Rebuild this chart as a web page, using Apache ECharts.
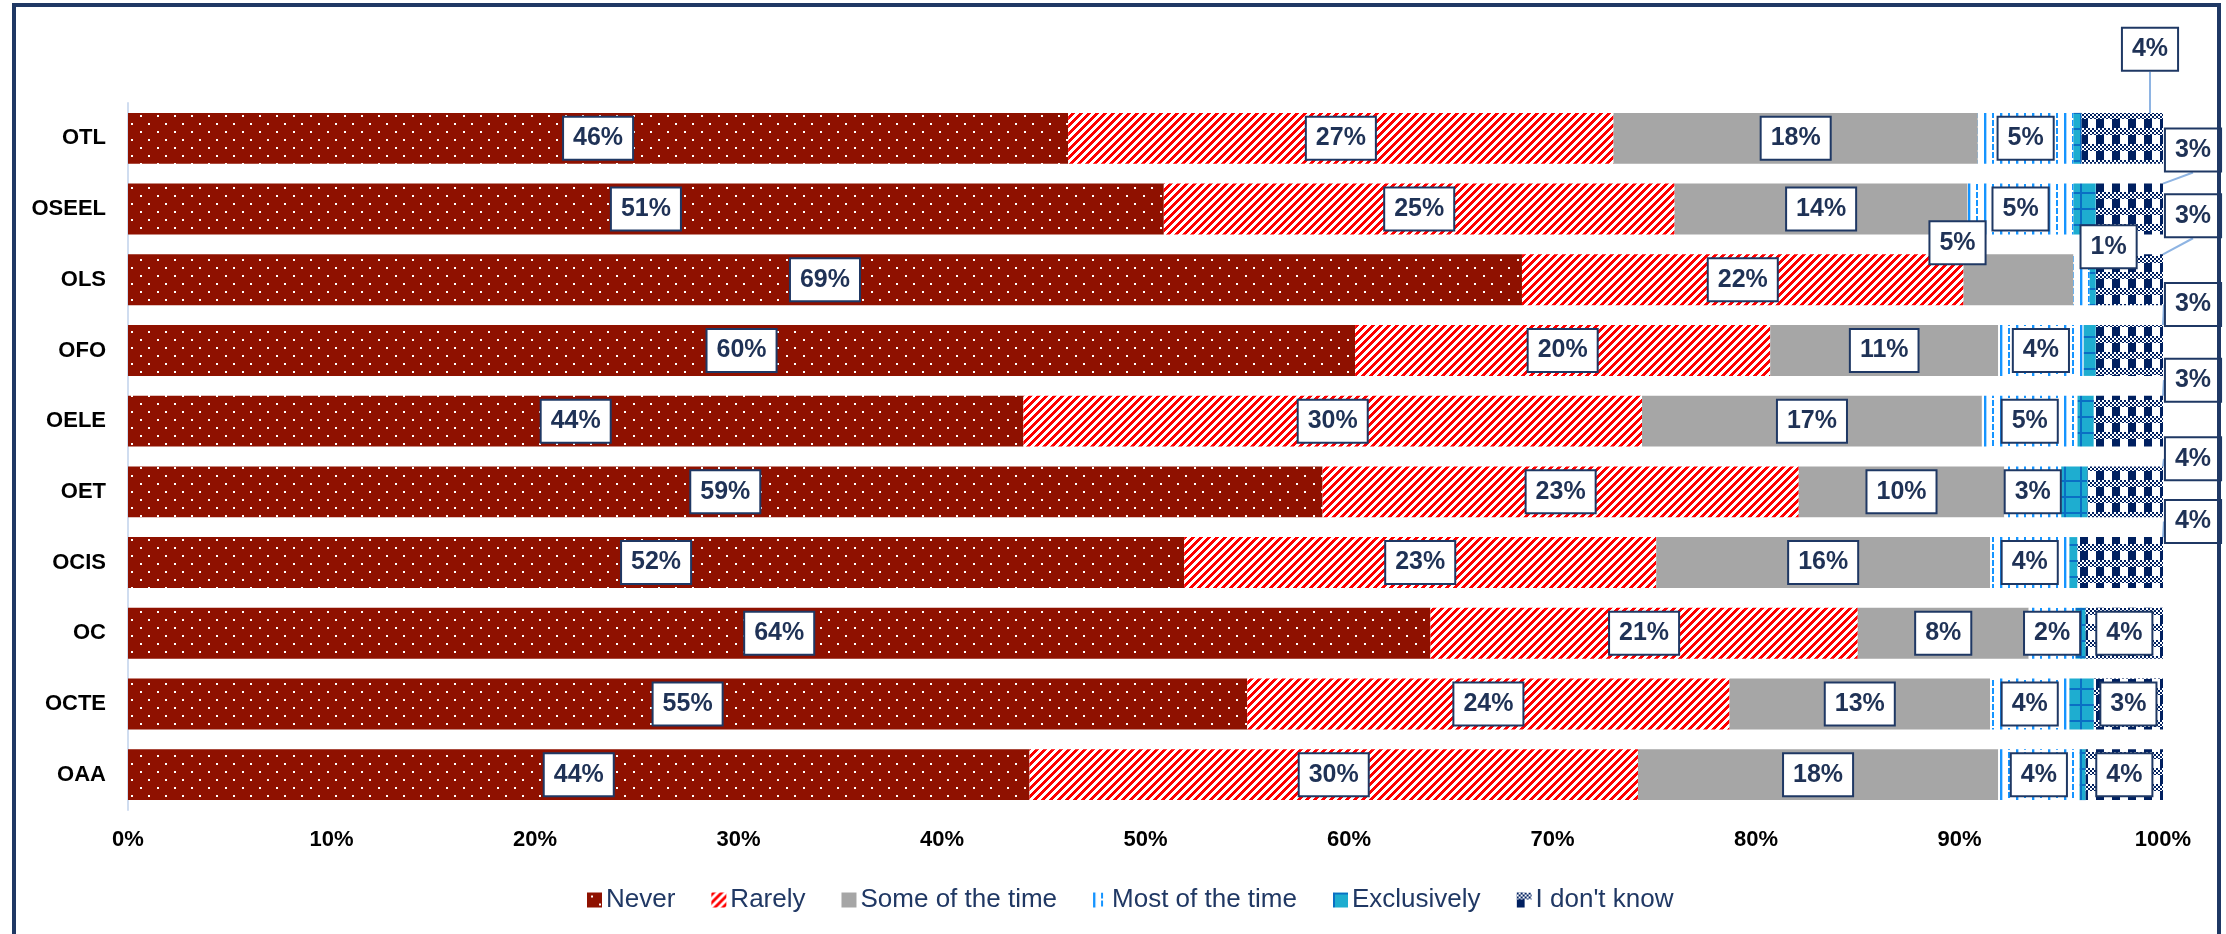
<!DOCTYPE html>
<html>
<head>
<meta charset="utf-8">
<title>Frequency by office</title>
<script src="https://cdn.jsdelivr.net/npm/echarts@6.0.0/dist/echarts.min.js"></script>
<style>
  html, body { margin: 0; padding: 0; background: #ffffff; }
  #chart { width: 2226px; height: 934px; }
</style>
</head>
<body>
<div id="chart"></div>
<script>
// ---- data (percent of respondents per office) ----
const categories = ['OTL', 'OSEEL', 'OLS', 'OFO', 'OELE', 'OET', 'OCIS', 'OC', 'OCTE', 'OAA'];
const seriesNames = ['Never', 'Rarely', 'Some of the time', 'Most of the time', 'Exclusively', "I don't know"];
const never         = [46.2, 50.9, 68.5, 60.3, 44.0, 58.7, 51.9, 64.0, 55.0, 44.3];
const rarely        = [26.8, 25.1, 21.7, 20.4, 30.4, 23.4, 23.2, 21.0, 23.7, 29.9];
const someOfTheTime = [17.9, 14.4,  5.4, 11.2, 16.7, 10.1, 16.4,  8.4, 12.8, 17.7];
const mostOfTheTime = [ 4.7,  5.2,  0.8,  4.2,  4.7,  2.8,  3.9,  2.3,  3.9,  4.0];
const exclusively   = [ 0.4,  1.1,  0.3,  0.6,  0.8,  1.3,  0.4,  0.5,  1.2,  0.3];
const dontKnow      = [ 4.0,  3.3,  3.3,  3.3,  3.4,  3.7,  4.2,  3.8,  3.4,  3.8];
const xTicks = [0, 10, 20, 30, 40, 50, 60, 70, 80, 90, 100];

// ---- label placement for the crowded right-hand end (pixels, relative to the segment) ----
const dontKnowLabelShift = [[-13, -89], [30, -59], [30, -64], [30, -46], [30, -41], [30, -33], [30, -41], null, null, null];
const someLabelOffset = { 2: [-61, -37] };
const mostLabelOffset = { 2: [27, -33] };

// ---- fill patterns ----
function tile(w, h, paint) {
  const c = document.createElement('canvas');
  c.width = w; c.height = h;
  const g = c.getContext('2d');
  paint(g, w, h);
  return { image: c, repeat: 'repeat' };
}
function px(g, x, y, col) { g.fillStyle = col; g.fillRect(x, y, 1, 1); }

const NAVY = '#002060';
const fills = [
  // Never: dark red with a sparse staggered white dot grid
  tile(17, 16, (g, w, h) => {
    g.fillStyle = '#8F1100'; g.fillRect(0, 0, w, h);
    g.fillStyle = '#ffffff';
    g.fillRect(4, 3, 2, 2);
    g.fillRect(12, 11, 2, 2);
  }),
  // Rarely: wide upward diagonal red stripes
  tile(8, 8, (g) => {
    for (let y = 0; y < 8; y++) for (let x = 0; x < 8; x++)
      px(g, x, y, ((x + y) % 8) < 4 ? '#FF0000' : '#ffffff');
  }),
  // Some of the time: plain grey
  '#A6A6A6',
  // Most of the time: thin vertical blue lines, alternating solid and dashed
  tile(16, 16, (g) => {
    g.fillStyle = '#ffffff'; g.fillRect(0, 0, 16, 16);
    g.fillStyle = '#1594FF';
    g.fillRect(0, 0, 2, 16);
    g.fillRect(8, 0, 2, 6);
    g.fillRect(8, 8, 2, 6);
    g.fillStyle = '#A9D8FF';
    g.fillRect(2, 0, 1, 16);
  }),
  // Exclusively: teal with a large blue grid
  tile(16, 16, (g) => {
    g.fillStyle = '#1EADD0'; g.fillRect(0, 0, 16, 16);
    g.fillStyle = '#0A6FC4';
    g.fillRect(0, 0, 2, 16);
    g.fillRect(0, 0, 16, 2);
  }),
  // I don't know: navy plaid (small checks over large blocks)
  tile(16, 16, (g) => {
    for (let y = 0; y < 16; y++) for (let x = 0; x < 16; x++) {
      let on;
      if (y < 7) on = ((Math.floor(x / 2) + Math.floor(y / 2)) % 2) === 0;
      else on = x < 8;
      px(g, x, y, on ? NAVY : '#ffffff');
    }
  })
];

// ---- shared label look ----
const FONT = '"Liberation Sans", Arial, sans-serif';
const labelBase = {
  show: true,
  position: 'inside',
  formatter: (p) => Math.round(p.value) + '%',
  color: '#1F3256',
  fontFamily: FONT,
  fontWeight: 'bold',
  fontSize: 25,
  lineHeight: 29,
  backgroundColor: '#ffffff',
  borderColor: '#1F3864',
  borderWidth: 2,
  padding: [6, 9, 6, 9]
};

function buildItems(values, offsets) {
  return values.map((v, i) => {
    const item = { value: v };
    if (offsets && offsets[i]) item.label = { offset: offsets[i] };
    return item;
  });
}

const valueSets = [never, rarely, someOfTheTime, mostOfTheTime, exclusively, dontKnow];

const series = valueSets.map((vals, s) => {
  const base = {
    name: seriesNames[s],
    type: 'bar',
    stack: 'share',
    barCategoryGap: '28%',
    itemStyle: { color: fills[s] },
    label: Object.assign({}, labelBase),
    emphasis: { disabled: true },
    data: buildItems(vals, s === 2 ? someLabelOffset : s === 3 ? mostLabelOffset : null)
  };
  if (s === 4) base.label = { show: false };
  if (s === 5) {
    base.data = vals.map((v, i) => {
      const item = { value: v };
      if (dontKnowLabelShift[i]) item.labelLine = { show: true };
      return item;
    });
    base.labelLine = { show: false, lineStyle: { color: '#8EB4E3', width: 2 } };
    base.labelLayout = (params) => {
      const shift = dontKnowLabelShift[params.dataIndex];
      if (!shift) return {};
      const r = params.rect;
      return {
        x: r.x + r.width + shift[0],
        y: r.y + r.height / 2 + shift[1],
        align: 'center',
        verticalAlign: 'middle'
      };
    };
  }
  return base;
});

const chart = echarts.init(document.getElementById('chart'), null, { renderer: 'canvas' });
chart.setOption({
  animation: false,
  backgroundColor: '#ffffff',
  grid: { left: 128, right: 63, top: 103, bottom: 124, containLabel: false },
  xAxis: {
    type: 'value',
    min: xTicks[0],
    max: xTicks[xTicks.length - 1],
    interval: xTicks[1] - xTicks[0],
    axisLine: { show: false },
    axisTick: { show: false },
    splitLine: { show: false },
    axisLabel: {
      formatter: '{value}%',
      color: '#000000',
      fontFamily: FONT,
      fontWeight: 'bold',
      fontSize: 22,
      margin: 19
    }
  },
  yAxis: {
    type: 'category',
    inverse: true,
    data: categories,
    axisLine: { show: true, lineStyle: { color: '#D0DDF0', width: 2 } },
    axisTick: { show: false },
    splitLine: { show: false },
    axisLabel: {
      color: '#000000',
      fontFamily: FONT,
      fontWeight: 'bold',
      fontSize: 22,
      margin: 22
    }
  },
  legend: {
    data: seriesNames,
    left: 582,
    top: 882,
    itemWidth: 15,
    itemHeight: 15,
    itemGap: 36,
    icon: 'rect',
    textStyle: { color: '#203864', fontFamily: FONT, fontSize: 26, padding: [0, 0, 0, -1] },
    selectedMode: false
  },
  graphic: [{
    type: 'rect',
    silent: true,
    z: 100,
    shape: { x: 14, y: 5, width: 2205, height: 1200 },
    style: { fill: 'none', stroke: '#1F3864', lineWidth: 4 }
  }],
  series: series
});
</script>
</body>
</html>
